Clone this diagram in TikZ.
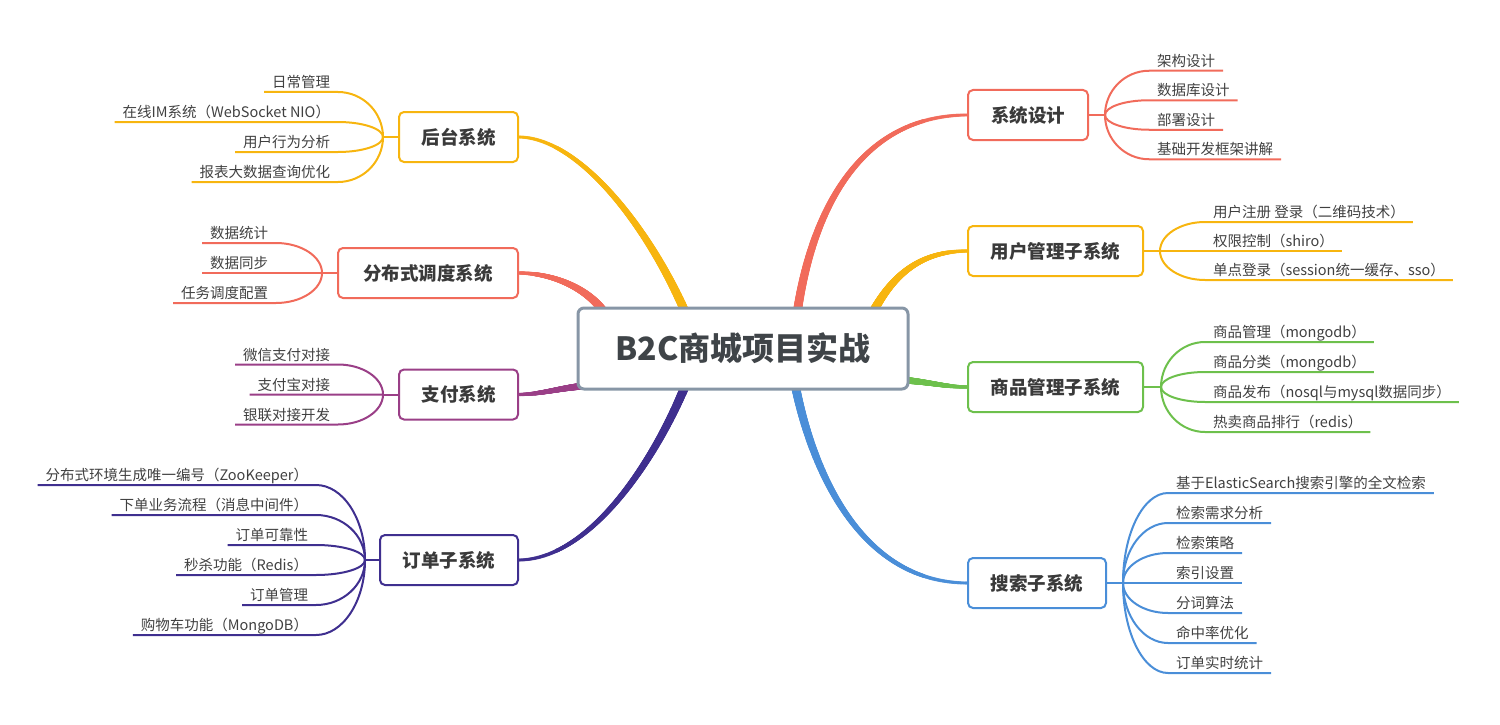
\documentclass[tikz,border=0pt]{standalone}
\usepackage{fontspec}
\setmainfont{Noto Sans CJK SC}
\usetikzlibrary{calc,decorations.markings,backgrounds}
\definecolor{cRed}{HTML}{F16B5B}
\definecolor{cYellow}{HTML}{F7B50F}
\definecolor{cGreen}{HTML}{6DC04C}
\definecolor{cBlue}{HTML}{4A8ED8}
\definecolor{cPurple}{HTML}{9A3F87}
\definecolor{cIndigo}{HTML}{3F2F8F}
\definecolor{rootline}{HTML}{8796A6}
\definecolor{roottext}{HTML}{3F4448}
\definecolor{boxtext}{HTML}{3A3A3A}
\definecolor{leaftext}{HTML}{404040}
\tikzset{
  rootbox/.style={draw=rootline, line width=3pt, rounded corners=6pt, fill=white,
    minimum width=330pt, minimum height=81pt, inner sep=0pt, outer sep=0pt,
    font=\fontsize{32}{36}\selectfont\bfseries, text=roottext},
  sub/.style={draw=#1, line width=2pt, rounded corners=5pt, fill=white,
    minimum height=50pt, inner sep=0pt, outer sep=0pt,
    font=\fontsize{18.5}{21}\selectfont\bfseries, text=boxtext},
  leaf/.style={font=\fontsize{14.5}{16}\selectfont, text=leaftext,
    inner xsep=8pt, inner ysep=4.5pt, text depth=0pt, outer sep=0pt},
  leafR/.style={leaf, anchor=south west},
  leafL/.style={leaf, anchor=south east},
  br/.style={draw=#1, line width=2pt},
  leafcurve/.style={to path={.. controls ($(\tikztostart)!0.55!(\tikztostart|-\tikztotarget)$)
     and ($(\tikztotarget)!0.55!(\tikztostart|-\tikztotarget)$) .. (\tikztotarget) \tikztonodes}},
  taper/.style n args={3}{decoration={markings,
     mark=between positions 0 and 1 step 0.0025 with {%
       \pgfmathsetmacro\tprad{#2+(#3-#2)*(\pgfkeysvalueof{/pgf/decoration/mark info/sequence number}-1)*0.0025}%
       \fill[#1] (0,0) circle (\tprad pt);}}, decorate}
}
\begin{document}
\begin{tikzpicture}[x=1pt,y=-1pt]
\useasboundingbox (0,0) rectangle (1500,725);

% root
\node[rootbox] (root) at (743,348.5) {B2C商城项目实战};

% subsystem boxes
\node[sub=cRed, minimum width=120pt] (sys) at (1028,115) {系统设计};
\node[sub=cYellow, minimum width=175pt] (user) at (1055.5,251) {用户管理子系统};
\node[sub=cGreen, minimum width=175pt] (goods) at (1055.5,387) {商品管理子系统};
\node[sub=cBlue, minimum width=138pt] (search) at (1037,583) {搜索子系统};
\node[sub=cYellow, minimum width=119pt] (adm) at (458.5,137) {后台系统};
\node[sub=cRed, minimum width=180pt] (sched) at (428,273) {分布式调度系统};
\node[sub=cPurple, minimum width=119pt] (pay) at (458.5,394.5) {支付系统};
\node[sub=cIndigo, minimum width=138pt] (order) at (449,560) {订单子系统};

% forks
\coordinate (fsys) at (1105,115);
\coordinate (fuser) at (1160,251);
\coordinate (fgoods) at (1161,387);
\coordinate (fsearch) at (1123,583);
\coordinate (fadm) at (383,137);
\coordinate (fsched) at (322,273);
\coordinate (fpay) at (383,394.5);
\coordinate (forder) at (365,560);

% leaves right
\node[leafR] (sys1) at (1149,70.75) {架构设计};
\node[leafR] (sys2) at (1149,100.25) {数据库设计};
\node[leafR] (sys3) at (1149,129.75) {部署设计};
\node[leafR] (sys4) at (1149,159.25) {基础开发框架讲解};

\node[leafR] (user1) at (1205,222) {用户注册 登录（二维码技术）};
\node[leafR] (user2) at (1205,251) {权限控制（shiro）};
\node[leafR] (user3) at (1205,280) {单点登录（session统一缓存、sso）};

\node[leafR] (goods1) at (1205,342) {商品管理（mongodb）};
\node[leafR] (goods2) at (1205,372) {商品分类（mongodb）};
\node[leafR] (goods3) at (1205,402) {商品发布（nosql与mysql数据同步）};
\node[leafR] (goods4) at (1205,432) {热卖商品排行（redis）};

\node[leafR] (search1) at (1168,493) {基于ElasticSearch搜索引擎的全文检索};
\node[leafR] (search2) at (1168,523) {检索需求分析};
\node[leafR] (search3) at (1168,553) {检索策略};
\node[leafR] (search4) at (1168,583) {索引设置};
\node[leafR] (search5) at (1168,613) {分词算法};
\node[leafR] (search6) at (1168,643) {命中率优化};
\node[leafR] (search7) at (1168,673) {订单实时统计};

% leaves left
\node[leafL] (adm1) at (338,92) {日常管理};
\node[leafL] (adm2) at (338,122) {在线IM系统（WebSocket NIO）};
\node[leafL] (adm3) at (338,152) {用户行为分析};
\node[leafL] (adm4) at (338,182) {报表大数据查询优化};

\node[leafL] (sched1) at (276,243) {数据统计};
\node[leafL] (sched2) at (276,273) {数据同步};
\node[leafL] (sched3) at (276,303) {任务调度配置};

\node[leafL] (pay1) at (338,364.5) {微信支付对接};
\node[leafL] (pay2) at (338,394.5) {支付宝对接};
\node[leafL] (pay3) at (338,424.5) {银联对接开发};

\node[leafL] (order1) at (316,485) {分布式环境生成唯一编号（ZooKeeper）};
\node[leafL] (order2) at (316,515) {下单业务流程（消息中间件）};
\node[leafL] (order3) at (316,545) {订单可靠性};
\node[leafL] (order4) at (316,575) {秒杀功能（Redis）};
\node[leafL] (order5) at (316,605) {订单管理};
\node[leafL] (order6) at (316,635) {购物车功能（MongoDB）};

% branch start points on the root
\coordinate (bsys) at (797,314);
\coordinate (buser) at (872,314);
\coordinate (bgoods) at (902,380);
\coordinate (bsearch) at (795,384);
\coordinate (badm) at (686,314);
\coordinate (bsched) at (605,314);
\coordinate (bpay) at (584,386);
\coordinate (border) at (686,384);

\begin{scope}[on background layer]
\path[taper={cRed}{4.5}{1.5}] (bsys) .. controls (812,210) and (860,115) .. (sys.west);
\path[taper={cYellow}{4.5}{1.5}] (buser) .. controls (895,270) and (925,251) .. (user.west);
\path[taper={cGreen}{3.5}{1.5}] (bgoods) .. controls (930,382) and (945,387) .. (goods.west);
\path[taper={cBlue}{4.5}{1.5}] (bsearch) .. controls (812,470) and (860,583) .. (search.west);
\path[taper={cYellow}{4.5}{1.5}] (badm) .. controls (650,230) and (580,137) .. (adm.east);
\path[taper={cRed}{4.5}{1.5}] (bsched) .. controls (590,290) and (555,273) .. (sched.east);
\path[taper={cPurple}{3.5}{1.5}] (bpay) .. controls (560,388) and (540,394.5) .. (pay.east);
\path[taper={cIndigo}{4.5}{1.5}] (border) .. controls (655,460) and (590,560) .. (order.east);
\end{scope}

% stubs
\draw[br=cRed] (sys.east) -- (fsys);
\draw[br=cYellow] (user.east) -- (fuser);
\draw[br=cGreen] (goods.east) -- (fgoods);
\draw[br=cBlue] (search.east) -- (fsearch);
\draw[br=cYellow] (adm.west) -- (fadm);
\draw[br=cRed] (sched.west) -- (fsched);
\draw[br=cPurple] (pay.west) -- (fpay);
\draw[br=cIndigo] (order.west) -- (forder);

% leaf connectors
\foreach \i in {1,...,4} \draw[br=cRed] (fsys) to[leafcurve] (sys\i.south west) -- (sys\i.south east);
\foreach \i in {1,...,3} \draw[br=cYellow] (fuser) to[leafcurve] (user\i.south west) -- (user\i.south east);
\foreach \i in {1,...,4} \draw[br=cGreen] (fgoods) to[leafcurve] (goods\i.south west) -- (goods\i.south east);
\foreach \i in {1,...,7} \draw[br=cBlue] (fsearch) to[leafcurve] (search\i.south west) -- (search\i.south east);
\foreach \i in {1,...,4} \draw[br=cYellow] (fadm) to[leafcurve] (adm\i.south east) -- (adm\i.south west);
\foreach \i in {1,...,3} \draw[br=cRed] (fsched) to[leafcurve] (sched\i.south east) -- (sched\i.south west);
\foreach \i in {1,...,3} \draw[br=cPurple] (fpay) to[leafcurve] (pay\i.south east) -- (pay\i.south west);
\foreach \i in {1,...,6} \draw[br=cIndigo] (forder) to[leafcurve] (order\i.south east) -- (order\i.south west);
\end{tikzpicture}
\end{document}
